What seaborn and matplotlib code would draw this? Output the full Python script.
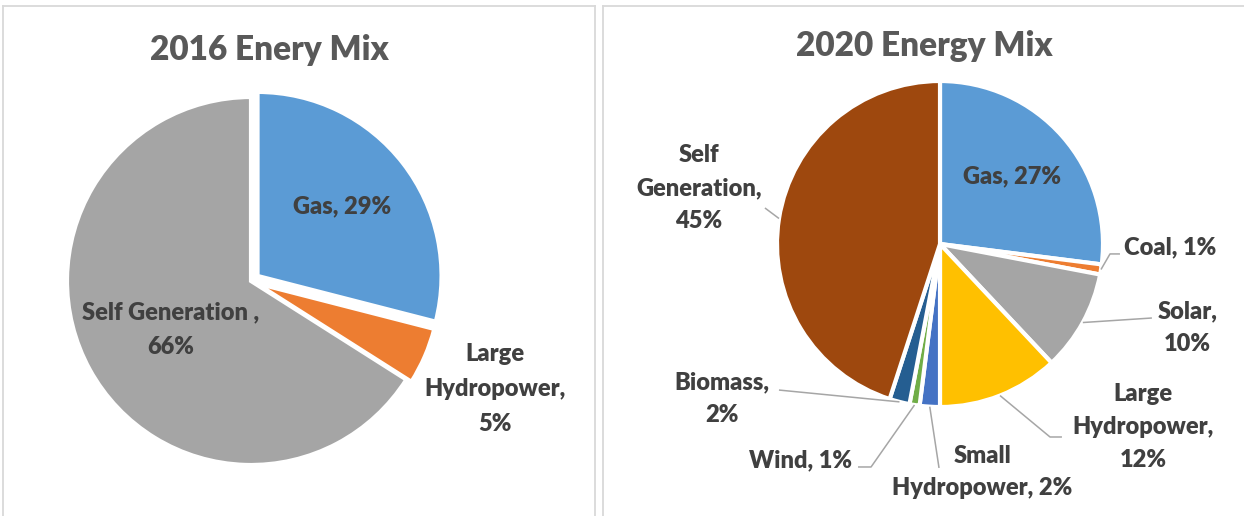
import matplotlib
matplotlib.use("Agg")
import matplotlib.pyplot as plt
import seaborn as sns
import numpy as np

# ---- data ----
mix16_labels = ["Gas", "Large\nHydropower", "Self Generation "]
mix16_values = [29, 5, 66]
mix16_colors = ["#5B9BD5", "#ED7D31", "#A5A5A5"]

mix20_labels = ["Gas", "Coal", "Solar", "Large\nHydropower", "Small\nHydropower",
                "Wind", "Biomass", "Self\nGeneration"]
mix20_values = [27, 1, 10, 12, 2, 1, 2, 45]
mix20_colors = ["#5B9BD5", "#ED7D31", "#A5A5A5", "#FFC000", "#4472C4",
                "#70AD47", "#255E91", "#9E480E"]

# ---- layout (pie radius = 1) ----
lab16_pos = [(0.495, 0.408), (1.326, -0.587), (-0.435, -0.266)]
lab16_sep = [" ", "\n", "\n"]

lab20_pos = [(0.442, 0.417), (1.13, -0.02), (1.52, -0.515), (1.245, -1.123),
             (0.258, -1.399), (-0.853, -1.325), (-1.337, -0.951), (-1.479, 0.344)]
lab20_sep = [" ", " ", "\n", "\n", " ", " ", "\n", "\n"]
lab20_ha = ["center", "left", "center", "center", "center", "center", "center", "center"]
# extra leader points after the wedge edge (None = no leader)
lead20 = [None,
          [(1.043, -0.061), (1.104, -0.061)],
          [(1.30, -0.454)],
          [(0.675, -1.184), (0.748, -1.184)],
          [(-0.006, -1.374)],
          [(-0.423, -1.368), (-0.503, -1.368)],
          [(-0.988, -0.896)],
          [(-1.074, 0.221)]]

sns.set_theme(style="white")
plt.rcParams["font.family"] = ["Lato", "DejaVu Sans"]

W, H = 1244, 516
fig = plt.figure(figsize=(W / 100, H / 100), dpi=100)
fig.patch.set_facecolor("white")

txt_col = "#404040"
ttl_col = "#595959"
border = "#D9D9D9"


def panel(x0, x1, cx, cy, r):
    ax = fig.add_axes([x0 / W, 0, (x1 - x0) / W, (H - 6) / H])
    ax.set_xticks([])
    ax.set_yticks([])
    for s in ax.spines.values():
        s.set_color(border)
        s.set_linewidth(1.3)
    ax.spines["bottom"].set_visible(False)
    return ax


def fix_limits(ax, x0, x1, cx, cy, r):
    ax.set_xlim((x0 - cx) / r, (x1 - cx) / r)
    ax.set_ylim(-(H - cy) / r, (cy - 6) / r)
    ax.set_aspect("auto")


# 2016 pie
ax1 = panel(3, 595, 251, 281, 184)
ax1.pie(mix16_values, colors=mix16_colors, startangle=90, counterclock=False,
        explode=[0.045, 0.03, 0], frame=True,
        wedgeprops=dict(edgecolor="white", linewidth=3))
fix_limits(ax1, 3, 595, 251, 281, 184)
for lab, v, (x, y), sep in zip(mix16_labels, mix16_values, lab16_pos, lab16_sep):
    ax1.text(x, y, f"{lab},{sep}{v}%", ha="center", va="center", fontsize=17,
             fontweight="heavy", color=txt_col, linespacing=1.7)

# 2020 pie
ax2 = panel(603, 1250, 940, 244, 163)
ax2.spines["right"].set_visible(False)
ax2.pie(mix20_values, colors=mix20_colors, startangle=90, counterclock=False,
        frame=True, wedgeprops=dict(edgecolor="white", linewidth=3))
fix_limits(ax2, 603, 1250, 940, 244, 163)

cum = np.cumsum([0] + mix20_values[:-1])
for i, (lab, v) in enumerate(zip(mix20_labels, mix20_values)):
    mid = np.deg2rad(90 - (cum[i] + v / 2) / 100 * 360)
    if lead20[i] is not None:
        pts = [(np.cos(mid), np.sin(mid))] + lead20[i]
        xs, ys = zip(*pts)
        ax2.plot(xs, ys, color="#A6A6A6", lw=1.1, solid_capstyle="butt")
    x, y = lab20_pos[i]
    ax2.text(x, y, f"{lab},{lab20_sep[i]}{v}%", ha=lab20_ha[i], va="center",
             fontsize=17, fontweight="heavy", color=txt_col, linespacing=1.6)

fig.text(269 / W, 1 - 50 / H, "2016 Enery Mix", ha="center", va="center",
         fontsize=24, fontweight="heavy", color=ttl_col)
fig.text(924 / W, 1 - 46 / H, "2020 Energy Mix", ha="center", va="center",
         fontsize=24, fontweight="heavy", color=ttl_col)

fig.savefig("out.png", dpi=100, facecolor="white")
